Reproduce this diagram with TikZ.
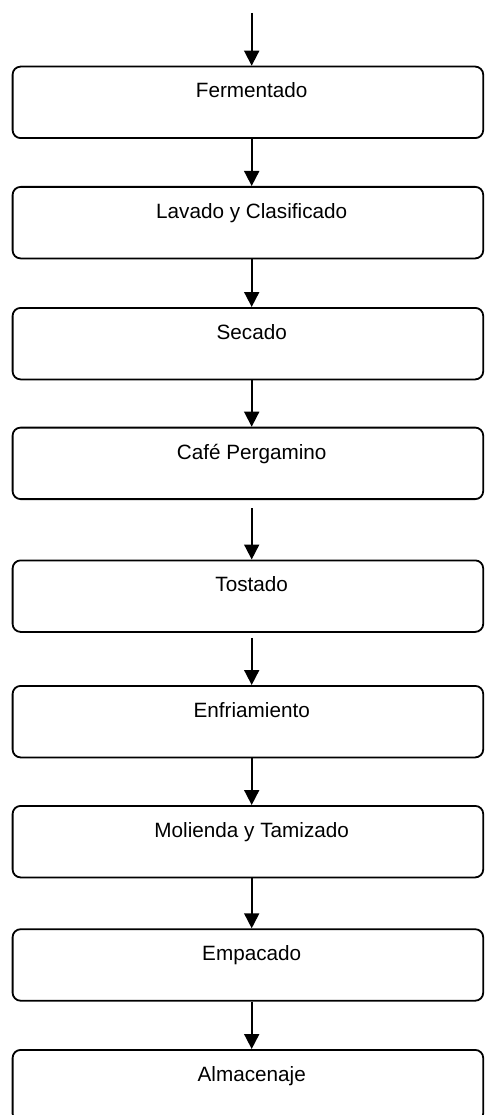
\documentclass[tikz,border=0pt]{standalone}
\usepackage{fontspec}
\setmainfont{Liberation Sans}
\usetikzlibrary{arrows.meta,calc}
\begin{document}
\begin{tikzpicture}[x=1pt,y=-1pt,
  stepbox/.style={draw,line width=1.8pt,rounded corners=8pt,minimum width=470.6pt,minimum height=71.5pt,inner sep=0pt,anchor=north west},
  steptext/.style={anchor=base,inner sep=0pt,font=\fontsize{20.7pt}{24pt}\selectfont},
  flow/.style={line width=1.8pt,-{Triangle[width=15pt,length=15pt]}}]
\clip (0,0) rectangle (484,1115);
\foreach \n/\t/\txt in {1/65.7/Fermentado,2/186/Lavado y Clasificado,3/307/Secado,4/426.7/Café Pergamino,5/559.5/Tostado,6/685/Enfriamiento,7/805/Molienda y Tamizado,8/928.3/Empacado,9/1049/Almacenaje}{
  \node[stepbox] (b\n) at (11.7,\t) {};
  \node[steptext] (t\n) at (251.7,\t+32.3) {\txt};
}
\coordinate (start) at (251.7,13);
\draw[flow] (start) -- (b1.north -| start);
\draw[flow] (b1.south -| start) -- (b2.north -| start);
\draw[flow] (b2.south -| start) -- (b3.north -| start);
\draw[flow] (b3.south -| start) -- (b4.north -| start);
\draw[flow,shorten <=8pt] (b4.south -| start) -- (b5.north -| start);
\draw[flow,shorten <=5pt] (b5.south -| start) -- (b6.north -| start);
\draw[flow] (b6.south -| start) -- (b7.north -| start);
\draw[flow] (b7.south -| start) -- (b8.north -| start);
\draw[flow] (b8.south -| start) -- (b9.north -| start);
\end{tikzpicture}
\end{document}
